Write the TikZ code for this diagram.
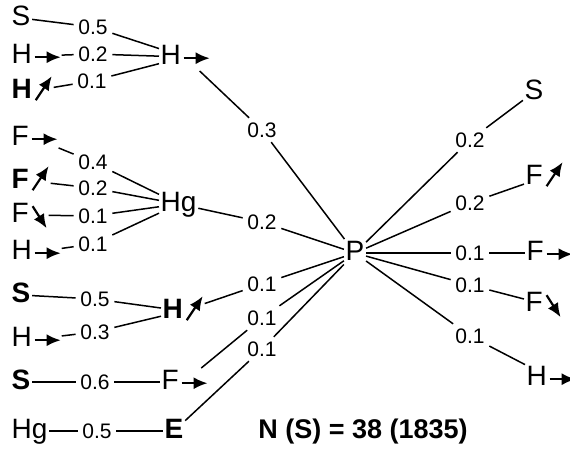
\documentclass[tikz,border=0pt]{standalone}
\usepackage{fontspec}
\setmainfont{Liberation Sans}
\usetikzlibrary{arrows.meta}

% small arrows written after an element symbol (drawn at the node's base east)
\newcommand{\arR}[1]{\draw[tip] ([xshift=-13.5pt,yshift=3pt]#1.base east) -- ([xshift=-0.5pt,yshift=3pt]#1.base east);}
\newcommand{\arNE}[1]{\draw[tip] ([xshift=-9pt,yshift=-1pt]#1.base east) -- ([xshift=-1pt,yshift=11pt]#1.base east);}
\newcommand{\arSE}[1]{\draw[tip] ([xshift=-8pt,yshift=8pt]#1.base east) -- ([xshift=-1pt,yshift=-3pt]#1.base east);}

\begin{document}
\begin{tikzpicture}[x=0.5pt,y=0.5pt,line width=0.75pt]
\tikzstyle{every node}+=[inner sep=0pt]
\tikzstyle{el}=[font=\fontsize{14}{16}\selectfont,text height=0.72em,text depth=0pt,inner xsep=0.5pt,inner ysep=3pt]
\tikzstyle{lf}=[el,anchor=west]
\tikzstyle{wt}=[font=\fontsize{10.5}{12}\selectfont,inner sep=2pt]
\tikzstyle{tip}=[line width=1.1pt,-{Latex[length=7pt,width=6pt]}]
\useasboundingbox (0,0) rectangle (570,-452);
\node[el] (P) at (355,-253) {P};
% H group
\node[lf] (s1) at (10,-18) {S};
\node[lf] (h1) at (10,-56) {H\kern14pt};
\node[lf] (h2) at (10,-91) {\textbf{H}\kern10pt};
\node[lf] (hA) at (159,-57) {H\kern14pt};
\node[wt] (a1) at (93,-27) {0.5};
\node[wt] (a2) at (93,-54) {0.2};
\node[wt] (a3) at (92,-81) {0.1};
\node[wt] (a4) at (262,-130) {0.3};
\draw (s1) -- (a1) -- (hA);
\draw (h1) -- (a2) -- (hA);
\draw (h2) -- (a3) -- (hA);
\draw (hA) -- (a4) -- (P);
\arR{h1} \arNE{h2} \arR{hA}
% Hg group
\node[lf] (f1) at (10,-138) {F\kern14pt};
\node[lf] (f2) at (10,-181) {\textbf{F}\kern10pt};
\node[lf] (f3) at (10,-215) {F\kern9pt};
\node[lf] (h3) at (10,-252) {H\kern14pt};
\node[lf] (hg) at (159,-204) {Hg};
\node[wt] (b1) at (93,-162) {0.4};
\node[wt] (b2) at (93,-188) {0.2};
\node[wt] (b3) at (93,-216) {0.1};
\node[wt] (b4) at (93,-244) {0.1};
\node[wt] (b5) at (262,-222) {0.2};
\draw (f1) -- (b1) -- (hg);
\draw (f2) -- (b2) -- (hg);
\draw (f3) -- (b3) -- (hg);
\draw (h3) -- (b4) -- (hg);
\draw (hg) -- (b5) -- (P);
\arR{f1} \arNE{f2} \arSE{f3} \arR{h3}
% lower groups
\node[lf] (s2) at (10,-295) {\textbf{S}};
\node[lf] (h4) at (10,-339) {H\kern14pt};
\node[lf] (hb) at (161,-311) {\textbf{H}\kern10pt};
\node[wt] (c1) at (95,-299) {0.5};
\node[wt] (c2) at (95,-332) {0.3};
\node[wt] (c3) at (262,-284) {0.1};
\draw (s2) -- (c1) -- (hb);
\draw (h4) -- (c2) -- (hb);
\draw (hb) -- (c3) -- (P);
\node[lf] (s3) at (10,-382) {\textbf{S}};
\node[lf] (fb) at (160,-382) {F\kern14pt};
\node[wt] (c4) at (95,-382) {0.6};
\node[wt] (c5) at (262,-318) {0.1};
\draw (s3) -- (c4) -- (fb);
\draw (fb) -- (c5) -- (P);
\node[lf] (hg2) at (10,-431) {Hg};
\node[lf] (eb) at (163,-431) {\textbf{E}};
\node[wt] (c6) at (97,-431) {0.5};
\node[wt] (c7) at (262,-349) {0.1};
\draw (hg2) -- (c6) -- (eb);
\draw (eb) -- (c7) -- (P);
\arR{h4} \arNE{hb} \arR{fb}
% right side
\node[el] (sr) at (534,-92) {S};
\node[lf] (fr1) at (524,-177) {F\kern10pt};
\node[lf] (fr2) at (525,-253) {F\kern14pt};
\node[lf] (fr3) at (524,-304) {F\kern9pt};
\node[lf] (hr) at (525,-378) {H\kern14pt};
\node[wt] (r1) at (470,-140) {0.2};
\node[wt] (r2) at (470,-203) {0.2};
\node[wt] (r3) at (470,-253) {0.1};
\node[wt] (r4) at (470,-285) {0.1};
\node[wt] (r5) at (470,-336) {0.1};
\draw (P) -- (r1) -- (sr);
\draw (P) -- (r2) -- (fr1);
\draw (P) -- (r3) -- (fr2);
\draw (P) -- (r4) -- (fr3);
\draw (P) -- (r5) -- (hr);
\arNE{fr1} \arR{fr2} \arSE{fr3} \arR{hr}
\node[font=\bfseries\fontsize{13.5}{15}\selectfont] (ns) at (363,-432) {N (S) = 38 (1835)};
\end{tikzpicture}
\end{document}
